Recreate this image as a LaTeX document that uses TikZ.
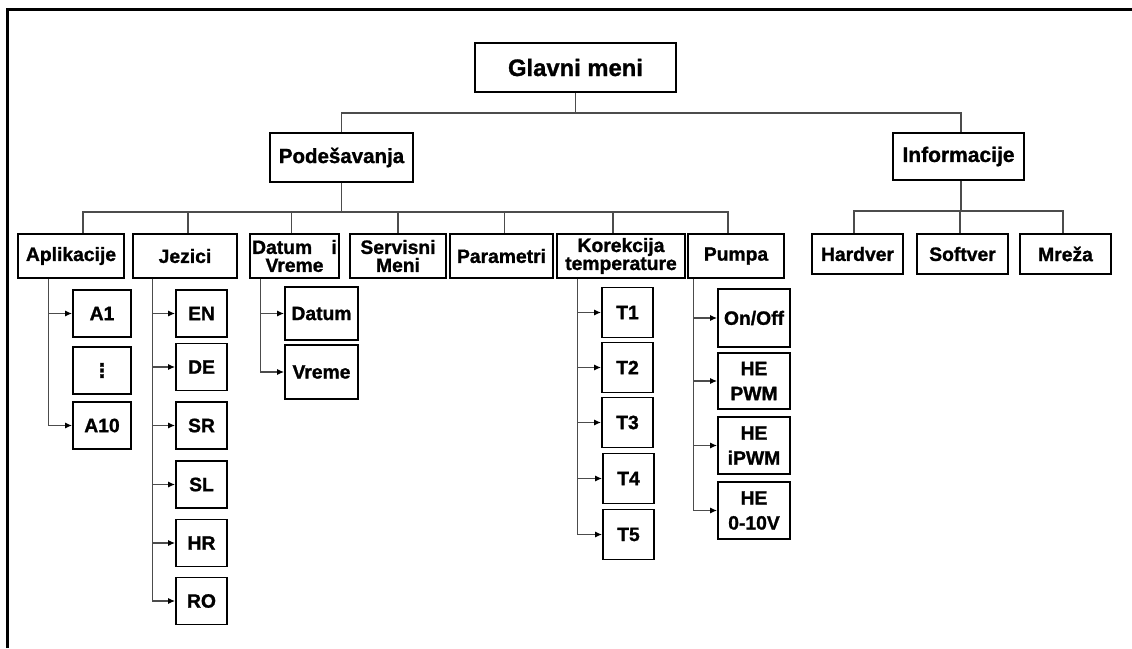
\documentclass[tikz,border=0pt]{standalone}
\usepackage{fontspec}
\setmainfont{Liberation Sans}[BoldFeatures={FakeBold=1.2}]
\newfontfamily\symfont{DejaVu Sans}[BoldFeatures={FakeBold=1.2}]
\usepackage{tikz}
\usetikzlibrary{arrows.meta,positioning}

\begin{document}
\begin{tikzpicture}[x=1pt, y=-1pt,
    box/.style={rectangle, draw, line width=1.8pt, inner sep=0pt, align=center, font=\fontsize{19.3}{18}\selectfont\bfseries},
    leaf/.style={box, font=\fontsize{19.3}{25}\selectfont\bfseries},
    link/.style={draw=black!70, line width=1.2pt},
    arr/.style={link, -{Latex[length=7pt,width=6pt,color=black]}}]

    \useasboundingbox (0,0) rectangle (1132,648);
    \draw[line width=3pt] (7.5,648) -- (7.5,9.5) -- (1132,9.5);

    \node[box, minimum width=201pt, minimum height=49pt, font=\fontsize{23.8}{26}\selectfont\bfseries] (glavni) at (575.5,67.5) {Glavni meni};
    \node[box, minimum width=143pt, minimum height=49pt, font=\fontsize{20.5}{22}\selectfont\bfseries] (pod) at (341.5,157.5) {Podešavanja};
    \node[box, minimum width=131pt, minimum height=47pt, font=\fontsize{21}{22}\selectfont\bfseries] (info) at (958.5,156.5) {Informacije};

    \node[box, minimum width=106pt, minimum height=44pt] (apl) at (71,256) {Aplikacije};
    \node[box, minimum width=104pt, minimum height=44pt] (jez) at (185,256) {Jezici};
    \node[box, minimum width=89pt, minimum height=44pt] (dat) at (294.5,256) {Datum\quad i\\Vreme};
    \node[box, minimum width=96pt, minimum height=44pt] (ser) at (398,256) {Servisni\\Meni};
    \node[box, minimum width=103pt, minimum height=44pt] (par) at (501.5,256) {Parametri};
    \node[box, minimum width=128pt, minimum height=44pt] (kor) at (621,256) {Korekcija\\temperature};
    \node[box, minimum width=96pt, minimum height=44pt] (pum) at (736,256) {Pumpa};

    \node[box, minimum width=91pt, minimum height=40pt] (hard) at (857.5,254) {Hardver};
    \node[box, minimum width=91pt, minimum height=40pt] (soft) at (962.5,254) {Softver};
    \node[box, minimum width=91pt, minimum height=40pt] (mreza) at (1065.5,254) {Mreža};

    \node[leaf, minimum width=58pt, minimum height=47pt] (a1) at (102,313.5) {A1};
    \node[leaf, minimum width=58pt, minimum height=47pt] (dots) at (102,370.5) {\symfont ⋮};
    \node[leaf, minimum width=58pt, minimum height=47pt] (a10) at (102,425.5) {A10};

    \node[leaf, minimum width=51pt, minimum height=47pt] (en) at (201.5,313.5) {EN};
    \node[leaf, minimum width=51pt, minimum height=47pt] (de) at (201.5,367) {DE};
    \node[leaf, minimum width=51pt, minimum height=47pt] (sr) at (201.5,425.5) {SR};
    \node[leaf, minimum width=51pt, minimum height=47pt] (sl) at (201.5,484.5) {SL};
    \node[leaf, minimum width=51pt, minimum height=47pt] (hr) at (201.5,543) {HR};
    \node[leaf, minimum width=51pt, minimum height=47pt] (ro) at (201.5,601) {RO};

    \node[leaf, minimum width=73pt, minimum height=53pt] (datum) at (321.5,313.5) {Datum};
    \node[leaf, minimum width=73pt, minimum height=54pt] (vreme) at (321.5,372) {Vreme};

    \node[leaf, minimum width=51pt, minimum height=50pt] (t1) at (627.5,312.5) {T1};
    \node[leaf, minimum width=51pt, minimum height=50pt] (t2) at (627.5,367.5) {T2};
    \node[leaf, minimum width=51pt, minimum height=50pt] (t3) at (627.5,422.5) {T3};
    \node[leaf, minimum width=51pt, minimum height=50pt] (t4) at (628.5,478.5) {T4};
    \node[leaf, minimum width=51pt, minimum height=50pt] (t5) at (628.5,534.5) {T5};

    \node[leaf, minimum width=72pt, minimum height=58pt] (onoff) at (754,318) {On/Off};
    \node[leaf, minimum width=72pt, minimum height=56pt] (pwm) at (754,381) {HE\\PWM};
    \node[leaf, minimum width=72pt, minimum height=57pt] (ipwm) at (754,445.5) {HE\\iPWM};
    \node[leaf, minimum width=72pt, minimum height=57pt] (volt) at (754,510.5) {HE\\0-10V};

    \draw[link] (glavni.south) -- ++(0,20) -| (pod.north);
    \draw[link] (glavni.south) -- ++(0,20) -| ([xshift=2.5pt]info.north);
    \foreach \c/\dx in {apl/12,jez/3,dat/-3,ser/0,par/3,kor/-8,pum/-8}
        \draw[link] (pod.south) -- ++(0,29) -| ([xshift=\dx pt]\c.north);
    \foreach \c/\dx in {hard/-3.5,soft/-2.5,mreza/-2.5}
        \draw[link] ([xshift=2.5pt]info.south) -- ++(0,30) -| ([xshift=\dx pt]\c.north);

    \foreach \c in {a1,a10}
        \draw[arr] ([xshift=31pt]apl.south west) |- (\c.west);
    \foreach \c in {en,de,sr,sl,hr,ro}
        \draw[arr] ([xshift=20pt]jez.south west) |- (\c.west);
    \foreach \c in {datum,vreme}
        \draw[arr] ([xshift=11pt]dat.south west) |- (\c.west);
    \foreach \c in {t1,t2,t3,t4,t5}
        \draw[arr] ([xshift=21pt]kor.south west) |- (\c.west);
    \foreach \c in {onoff,pwm,ipwm,volt}
        \draw[arr] ([xshift=6pt]pum.south west) |- (\c.west);
\end{tikzpicture}
\end{document}
